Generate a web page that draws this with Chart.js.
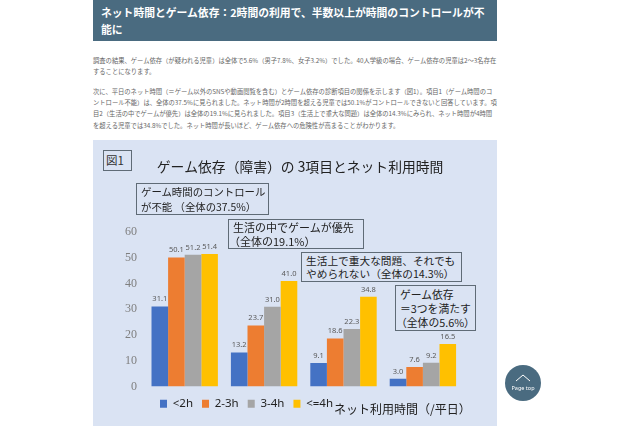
<!DOCTYPE html>
<html lang="ja">
<head>
<meta charset="utf-8">
<script src="https://cdn.jsdelivr.net/npm/chart.js@4"></script>
<style>
html, body { margin: 0; padding: 0; background: #fff; overflow: hidden; }
body { width: 640px; height: 426px; position: relative; font-family: "Noto Sans CJK JP", sans-serif; }
div { position: absolute; box-sizing: border-box; white-space: nowrap; }
#head { left: 93px; top: 0; width: 404px; height: 41px; background: #4a6b80; color: #fff; font-weight: 700; font-size: 10.8px; line-height: 17px; padding: 4px 0 0 8px; }
.para { left: 93px; color: #666; font-size: 6.3px; line-height: 11.2px; }
#panel { left: 93px; top: 140px; width: 404px; height: 286px; background: #dae3f3; }
#wrap { left: 93px; top: 140px; width: 414px; height: 286px; }
.box { background: #dae3f3; border: 1.5px solid #5f6b76; color: #222; padding-left: 4px; }
.paren { margin-left: -4px; }
#xname { left: 334px; top: 401px; font-size: 12px; line-height: 16px; color: #222; }
#top { left: 505px; top: 365px; width: 36px; height: 36px; border-radius: 50%; background: #4a6b80; color: #fff; font-size: 5.5px; text-align: center; padding-top: 19px; line-height: 8px; font-family: "Noto Sans", sans-serif; }
#top svg { position: absolute; left: 10px; top: 8px; }
</style>
</head>
<body>
<div id="head">ネット時間とゲーム依存&#xFF1A;2時間の利用で、半数以上が時間のコントロールが不<br>能に</div>
<div class="para" style="top:55px">調査の結果、ゲーム依存&#xFF08;が疑われる児童&#xFF09;は全体で5.6%&#xFF08;男子7.8%、女子3.2%&#xFF09;でした。40人学級の場合、ゲーム依存の児童は2&#xFF5E;3名存在<br>することになります。</div>
<div class="para" style="top:86px">次に、平日のネット時間&#xFF08;&#xFF1D;ゲーム以外のSNSや動画閲覧を含む&#xFF09;とゲーム依存の診断項目の関係を示します&#xFF08;図1&#xFF09;。項目1&#xFF08;ゲーム時間のコ<br>ントロール不能&#xFF09;は、全体の37.5%に見られました。ネット時間が2時間を超える児童では50.1%がコントロールできないと回答しています。項<br>目2&#xFF08;生活の中でゲームが優先&#xFF09;は全体の19.1%に見られました。項目3&#xFF08;生活上で重大な問題&#xFF09;は全体の14.3%にみられ、ネット時間が4時間<br>を超える児童では34.8%でした。ネット時間が長いほど、ゲーム依存への危険性が高まることがわかります。</div>
<div id="panel"></div>
<div id="wrap"><canvas id="chart" width="414" height="286"></canvas></div>
<div class="box" style="left:103px;top:150px;width:29px;height:21px;font-size:11.5px;line-height:18px;padding-left:2px;color:#333">図1</div>
<div class="box" style="left:136px;top:183px;width:133px;height:32px;font-size:10.4px;line-height:15px;">ゲーム時間のコントロール<br>が不能 &#xFF08;全体の37.5%&#xFF09;</div>
<div class="box" style="left:228px;top:219px;width:136px;height:30px;font-size:11px;line-height:14px;">生活の中でゲームが優先<br><span class="paren">&#xFF08;全体の19.1%&#xFF09;</span></div>
<div class="box" style="left:301px;top:252px;width:161px;height:30px;font-size:10.7px;line-height:13px;padding-top:1px;">生活上で重大な問題、それでも<br>やめられない&#xFF08;全体の14.3%&#xFF09;</div>
<div class="box" style="left:395px;top:285px;width:81px;height:46px;font-size:10.8px;line-height:14px;padding-top:1px;">ゲーム依存<br>&#xFF1D;3つを満たす<br><span class="paren">&#xFF08;全体の5.6%&#xFF09;</span></div>
<div id="xname">ネット利用時間&#xFF08;/平日&#xFF09;</div>
<div id="top"><svg width="16" height="9"><polyline points="1,8 8,2 15,8" fill="none" stroke="#fff" stroke-width="1"/></svg>Page top</div>
<script>
const categories = ['ゲーム時間のコントロールが不能', '生活の中でゲームが優先', '生活上で重大な問題', 'ゲーム依存'];
const under2h = [31.1, 13.2, 9.1, 3.0];
const from2to3h = [50.1, 23.7, 18.6, 7.6];
const from3to4h = [51.2, 31.0, 22.3, 9.2];
const over4h = [51.4, 41.0, 34.8, 16.5];
const yTicks = [0, 10, 20, 30, 40, 50, 60];

const barLabels = {
    id: 'barLabels',
    afterDatasetsDraw(chart) {
        const ctx = chart.ctx;
        ctx.save();
        ctx.font = '7.5px "Noto Sans", sans-serif';
        ctx.fillStyle = '#595959';
        ctx.textAlign = 'center';
        ctx.textBaseline = 'bottom';
        chart.data.datasets.forEach((ds, i) => {
            chart.getDatasetMeta(i).data.forEach((bar, j) => {
                ctx.fillText(ds.data[j].toFixed(1), bar.x, bar.y - 3.5);
            });
        });
        ctx.restore();
    }
};

// title and legend are off centre in the original
const moveBlocks = {
    id: 'moveBlocks',
    afterLayout(chart) {
        chart.titleBlock.left = 0;
        chart.titleBlock.right = 414;
        chart.legend.left = 58;
        chart.legend.top = 249;
    }
};

const ctx = document.getElementById('chart').getContext('2d');
const dependenceChart = new Chart(ctx, {
    type: 'bar',
    data: {
        labels: categories,
        datasets: [
            { label: '<2h', data: under2h, backgroundColor: '#4472c4' },
            { label: '2-3h', data: from2to3h, backgroundColor: '#ed7d31' },
            { label: '3-4h', data: from3to4h, backgroundColor: '#a5a5a5' },
            { label: '<=4h', data: over4h, backgroundColor: '#ffc000' }
        ]
    },
    options: {
        responsive: false,
        animation: false,
        barPercentage: 1,
        categoryPercentage: 0.836,
        layout: { padding: { left: 0, right: 44.4, top: 0, bottom: 9 } },
        plugins: {
            title: {
                display: true,
                text: 'ゲーム依存\uFF08障害\uFF09の 3項目とネット利用時間',
                color: '#222',
                font: { size: 13.8, weight: 'normal', family: '"Noto Sans CJK JP", sans-serif' },
                padding: { top: 18.7, bottom: 56.7 }
            },
            legend: {
                position: 'bottom',
                align: 'start',
                labels: {
                    boxWidth: 7,
                    boxHeight: 8,
                    padding: 9,
                    color: '#222',
                    font: { size: 11.5, family: '"Noto Sans", sans-serif' }
                }
            },
            tooltip: { enabled: false }
        },
        scales: {
            x: { display: false },
            y: {
                min: 0,
                max: 60,
                afterFit(scale) { scale.width = 52; },
                afterBuildTicks(scale) { scale.ticks = yTicks.map(v => ({ value: v })); },
                grid: { display: false },
                border: { display: false },
                ticks: {
                    color: '#7f7f7f',
                    padding: 0,
                    font: { size: 12, family: '"Liberation Serif", serif' }
                }
            }
        }
    },
    plugins: [barLabels, moveBlocks]
});
</script>
</body>
</html>
